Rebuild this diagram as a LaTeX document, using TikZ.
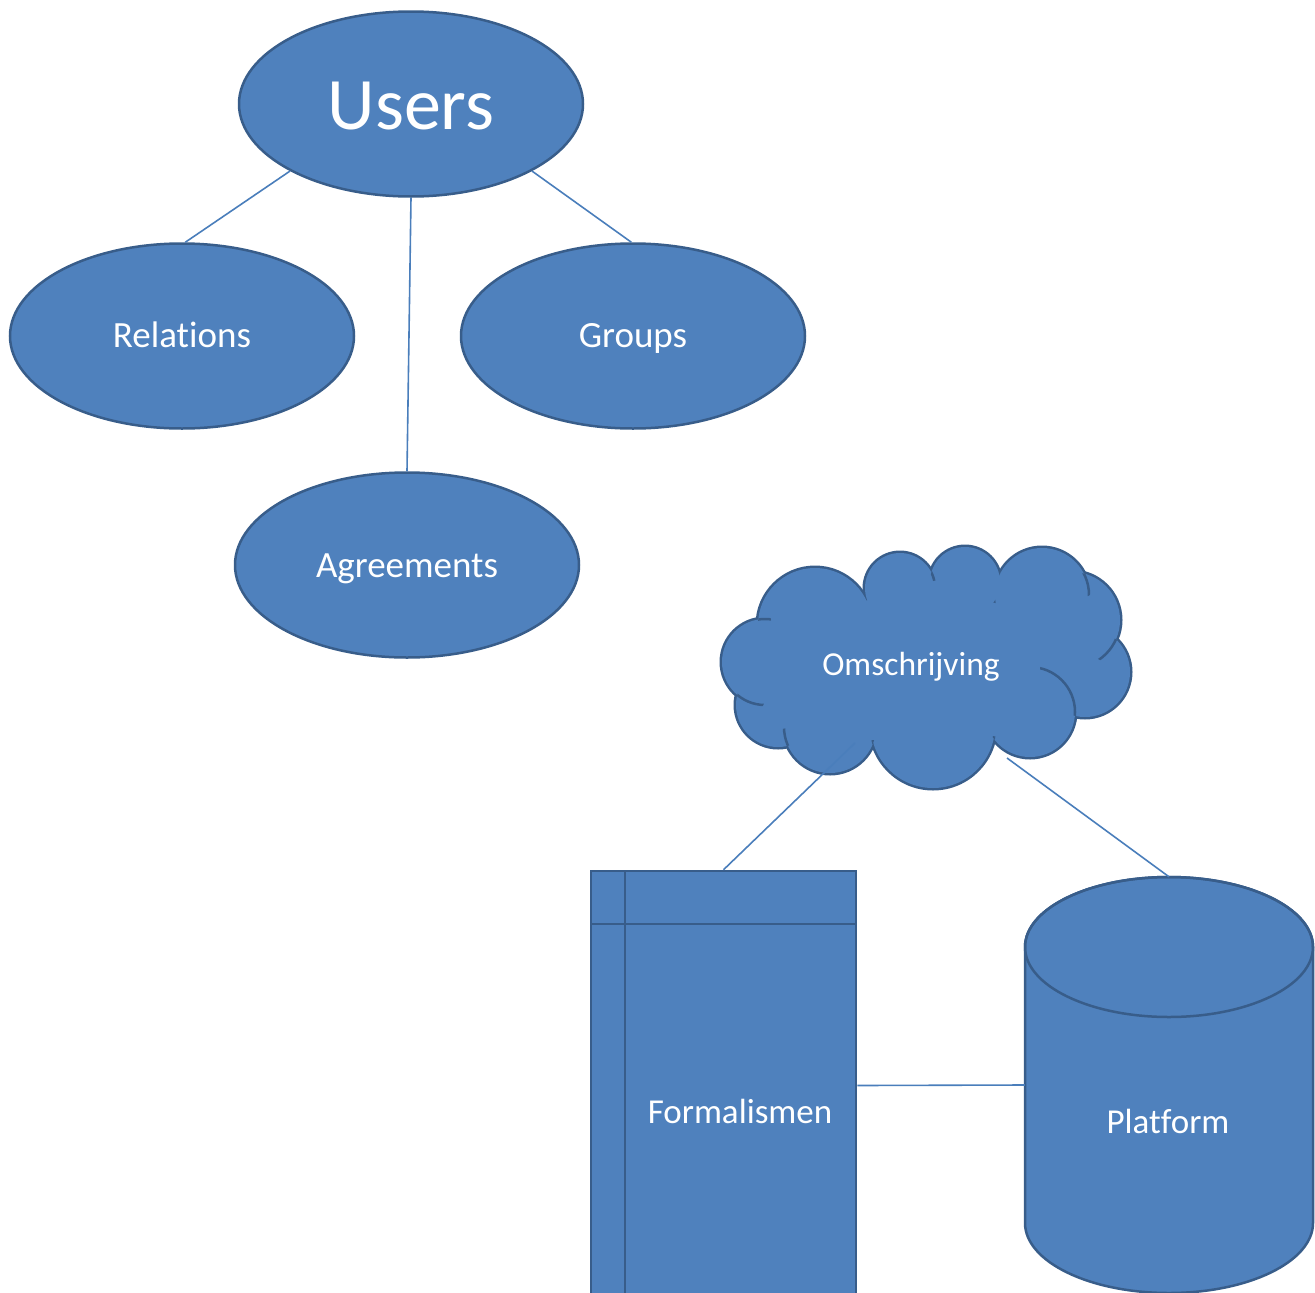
\documentclass[tikz,border=0pt]{standalone}
\usepackage{fontspec}
\setmainfont[RawFeature=-liga]{Carlito}
\usetikzlibrary{shapes.geometric}
\definecolor{fillb}{HTML}{4F81BD}
\definecolor{edgeb}{HTML}{385D8A}
\definecolor{linkb}{HTML}{4A7EBB}
\tikzset{
  bubble/.style={ellipse, draw=edgeb, line width=2.5pt, fill=fillb,
    minimum width=344pt, minimum height=185pt, inner sep=0pt},
  link/.style={draw=linkb, line width=1.6pt},
  lbl/.style={text=white, font=\fontsize{37}{44}\selectfont, inner sep=0pt, anchor=base},
  edgeline/.style={draw=edgeb, line width=2.5pt},
}
\begin{document}
\begin{tikzpicture}[x=1pt,y=-1pt]
\useasboundingbox (0,0) rectangle (1315,1293);
\clip (0,0) rectangle (1315,1293);

% --- top tree ---
\node[bubble] (users) at (411,104) {};
\node[bubble] (rel) at (182,336) {};
\node[bubble] (grp) at (633,336) {};
\node[bubble] (agr) at (407,565) {};
\node[lbl, font=\fontsize{74}{80}\selectfont] (userstxt) at (411,129) {Users};
\node[lbl] (reltxt) at (182,347) {Relations};
\node[lbl] (grptxt) at (633,347) {Groups};
\node[lbl] (agrtxt) at (407,577) {Agreements};

\draw[link] (users.209) -- (rel.88);
\draw[link] (users.south) -- (agr.north);
\draw[link] (users.331) -- (grp.91);

% --- cloud ---
\def\cloudcircles{765/662/43, 778/705/42, 830/727/46, 933/726/62, 1030/712/45,
  1085/672/45, 1072/620/48, 1042/595/47, 965/582/35, 900/588/35, 815/625/57}
\foreach \cx/\cy/\r in \cloudcircles
  \draw[edgeb, line width=5pt] (\cx,\cy) circle (\r);
\foreach \cx/\cy/\r in \cloudcircles
  \fill[fillb] (\cx,\cy) circle (\r);
\fill[fillb] (925,665) ellipse (150 and 70);
% interior hooks: circle A drawn inside circle B near notch N
\foreach \ax/\ay/\ar/\bx/\by/\br/\nx/\ny/\nl in {
  765/662/43/815/625/57/759/620/12,
  815/625/57/900/588/35/867/580/10,
  900/588/35/965/582/35/933/573/8,
  965/582/35/1042/595/47/997/566/8,
  1042/595/47/1072/620/48/1083/583/14,
  1072/620/48/1085/672/45/1105/647/14,
  1030/712/45/1085/672/45/1060/690/45,
  933/726/62/1030/712/45/993/748/12,
  933/726/62/830/727/46/873/752/12,
  830/727/46/778/705/42/787/740/12,
  765/662/43/778/705/42/735/690/32}
{
  \begin{scope}
    \clip (\bx,\by) circle (\br);
    \clip (\nx,\ny) circle (\nl);
    \draw[edgeline] (\ax,\ay) circle (\ar);
  \end{scope}
}
\node[lbl, font=\fontsize{33.5}{40}\selectfont] (omsch) at (911,675) {Omschrijving};
\coordinate (cloudA) at (855,743);
\coordinate (cloudB) at (1007,758);

% --- Formalismen (internal storage) ---
\node[draw=edgeb, line width=2.5pt, fill=fillb, minimum width=265pt,
  minimum height=429pt, inner sep=0pt] (formal) at (723.5,1085.5) {};
\draw[edgeline] (625,871) -- (625,1300);
\draw[edgeline] (591,924) -- (856,924);
\node[lbl, font=\fontsize{35}{42}\selectfont] (formtxt) at (740,1123) {Formalismen};

% --- Platform (cylinder) ---
\node[minimum width=288pt, minimum height=416pt, inner sep=0pt] (cyl) at (1169,1085) {};
\filldraw[fill=fillb, draw=edgeb, line width=2.5pt]
  (1025,947) -- (1025,1223) arc (180:0:144 and 70) -- (1313,947) arc (0:-180:144 and 70) -- cycle;
\draw[edgeline] (1169,947) ellipse (144 and 70);
\node[lbl, font=\fontsize{35}{42}\selectfont] (plat) at (1168,1133) {Platform};

% --- connectors ---
\draw[link] (cloudA) -- (formal.north);
\draw[link] (cloudB) -- (cyl.north);
\draw[link] (formal.east) -- (cyl.west);
\end{tikzpicture}
\end{document}
